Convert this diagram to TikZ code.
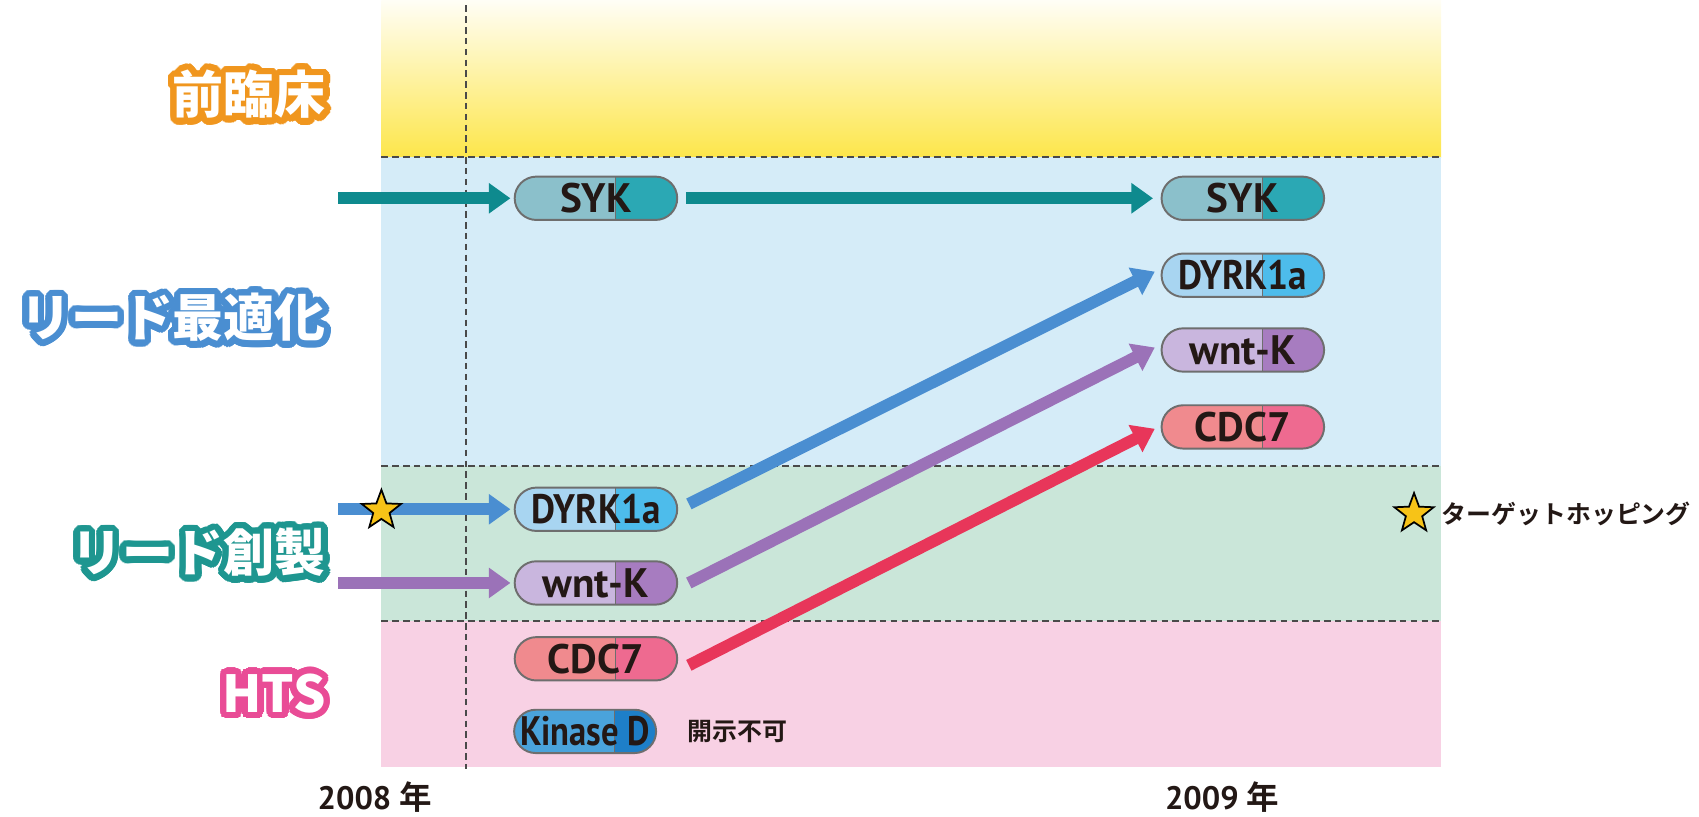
\documentclass[tikz,border=0pt]{standalone}
\usepackage{fontspec}
\usepackage[copies]{contour}
\usetikzlibrary{arrows.meta,shapes.misc,shapes.geometric}
\setmainfont{PT Sans}
\newfontfamily\latinbold{PT Sans Bold}
\newfontfamily\latinnarrow{PT Sans Bold}[FakeStretch=0.9]
\newfontfamily\latinnarrower{PT Sans Bold}[FakeStretch=0.84]
\newfontfamily\jpheavy{Noto Sans CJK JP Black}
\newfontfamily\jpbold{Noto Sans CJK JP Bold}

\definecolor{ink}{HTML}{231815}
\definecolor{dashgray}{HTML}{4A4A4A}
\definecolor{pillline}{HTML}{6E6E6E}
\definecolor{yellowtop}{HTML}{FFFEF6}
\definecolor{yellowbot}{HTML}{FDE64B}
\definecolor{bandblue}{HTML}{D5ECF8}
\definecolor{bandgreen}{HTML}{CAE6D9}
\definecolor{bandpink}{HTML}{F8D1E4}
\definecolor{lblorange}{HTML}{F0961E}
\definecolor{lblblue}{HTML}{4A8ED1}
\definecolor{lblteal}{HTML}{1E9690}
\definecolor{lblpink}{HTML}{E94C96}
\definecolor{sykL}{HTML}{8BC0CB}
\definecolor{sykR}{HTML}{2BA8B4}
\definecolor{dyrkL}{HTML}{A8D5F1}
\definecolor{dyrkR}{HTML}{4DBCEB}
\definecolor{wntL}{HTML}{C9B6DE}
\definecolor{wntR}{HTML}{A77CC0}
\definecolor{cdcL}{HTML}{F08A8E}
\definecolor{cdcR}{HTML}{EE6A90}
\definecolor{kinL}{HTML}{4AA3DB}
\definecolor{kinR}{HTML}{1E7FC8}
\definecolor{arrTeal}{HTML}{0E8A8E}
\definecolor{arrBlue}{HTML}{4A8ED1}
\definecolor{arrPurple}{HTML}{9B72B8}
\definecolor{arrRed}{HTML}{E8365A}
\definecolor{staryellow}{HTML}{F7C317}

\contourlength{3pt}
\contournumber{32}

\begin{document}
\begin{tikzpicture}[x=0.5pt,y=-0.5pt,
  divline/.style={draw=dashgray, line width=0.8pt, dash pattern=on 3pt off 2pt},
  stagelabel/.style={font=\jpheavy\fontsize{23.5}{23.5}\selectfont, text=white, inner sep=0pt, anchor=east},
  pill/.style n args={3}{rounded rectangle, draw=pillline, line width=0.9pt,
    minimum width=#3, minimum height=20pt, inner sep=0pt,
    font=\latinbold\fontsize{19}{19}\selectfont, text=ink,
    path picture={
      \fill[#1] (path picture bounding box.south west) rectangle (path picture bounding box.north east);
      \fill[#2] ([xshift=46.5pt]path picture bounding box.south west) rectangle (path picture bounding box.north east);
      \draw[pillline, line width=0.5pt] ([xshift=46.5pt]path picture bounding box.south west) -- ([xshift=46.5pt]path picture bounding box.north west);
    }},
  narrowtext/.style={font=\latinnarrow\fontsize{19}{19}\selectfont},
  narrowertext/.style={font=\latinnarrower\fontsize{19}{19}\selectfont},
  flow/.style={draw=#1, line width=5.5pt, -{Triangle[length=10pt,width=13.5pt,fill=#1]}},
  tstar/.style={star, star points=5, star point ratio=2.4, fill=staryellow, draw=black, line width=0.8pt, minimum size=19pt, inner sep=0pt},
  note/.style={font=\jpbold\fontsize{11.5}{11.5}\selectfont, text=ink, inner sep=0pt},
  year/.style={font=\latinbold\fontsize{15}{15}\selectfont, text=ink, inner sep=1pt}
]
\useasboundingbox (0,0) rectangle (1568,754);

% stage bands
\shade[top color=yellowtop, bottom color=yellowbot] (352,0) rectangle (1330,145);
\fill[bandblue]  (352,145) rectangle (1330,430);
\fill[bandgreen] (352,430) rectangle (1330,573);
\fill[bandpink]  (352,573) rectangle (1330,708);
\draw[divline] (352,145) -- (1330,145);
\draw[divline] (352,430) -- (1330,430);
\draw[divline] (352,573) -- (1330,573);
\draw[divline] (430,5) -- (430,710);

% stage labels
\node[stagelabel] (preclin) at (301,90)  {\contour{lblorange}{前臨床}};
\node[stagelabel] (leadopt) at (301,296) {\contour{lblblue}{リード最適化}};
\node[stagelabel] (leadgen) at (301,513) {\contour{lblteal}{リード創製}};
\node[stagelabel] (hts)     at (301,643) {\contour{lblpink}{HTS}};

% compounds, 2008
\node[pill={sykL}{sykR}{75pt}]  (syk1)  at (550,183) {SYK};
\node[pill={dyrkL}{dyrkR}{75pt}, narrowtext] (dyrk1) at (550,470) {DYRK1a};
\node[pill={wntL}{wntR}{75pt}]  (wnt1)  at (550,538) {wnt-K};
\node[pill={cdcL}{cdcR}{75pt}]  (cdc1)  at (550,608) {CDC7};
\node[pill={kinL}{kinR}{65pt}, narrowertext]  (kin1)  at (540,675) {Kinase D};
\node[note, anchor=west] (kinnote) at (634,675) {開示不可};

% compounds, 2009
\node[pill={sykL}{sykR}{75pt}]  (syk2)  at (1147,183) {SYK};
\node[pill={dyrkL}{dyrkR}{75pt}, narrowtext] (dyrk2) at (1147,254) {DYRK1a};
\node[pill={wntL}{wntR}{75pt}]  (wnt2)  at (1147,323) {wnt-K};
\node[pill={cdcL}{cdcR}{75pt}]  (cdc2)  at (1147,394) {CDC7};

% incoming flows
\coordinate (sykin)  at (312,183);
\coordinate (dyrkin) at (312,470);
\coordinate (wntin)  at (312,538);
\draw[flow=arrTeal, shorten >=1.5pt] (sykin) -- (syk1.west);
\draw[flow=arrBlue, shorten >=1.5pt] (dyrkin) -- (dyrk1.west);
\draw[flow=arrPurple, shorten >=1.5pt] (wntin) -- (wnt1.west);

% progress flows
\draw[flow=arrTeal, shorten <=3.5pt, shorten >=3.5pt] (syk1.east) -- (syk2.west);
\draw[flow=arrBlue, shorten <=5.5pt, shorten >=3pt] (dyrk1.east) -- ([yshift=3pt]dyrk2.west);
\draw[flow=arrPurple, shorten <=5.5pt, shorten >=3pt] ([yshift=-2.5pt]wnt1.east) -- ([yshift=2.5pt]wnt2.west);
\draw[flow=arrRed, shorten <=5.5pt, shorten >=3pt] ([yshift=-5.5pt]cdc1.east) -- ([yshift=0.5pt]cdc2.west);

% target hopping markers
\node[tstar] (hop1) at (352,471) {};
\node[tstar] (hop2) at (1305,474) {};
\node[note, anchor=west] (hopnote) at (1330,474) {ターゲットホッピング};

% years
\node[year] (y2008) at (346,736) {2008 {\jpbold 年}};
\node[year] (y2009) at (1128,736) {2009 {\jpbold 年}};
\end{tikzpicture}
\end{document}
